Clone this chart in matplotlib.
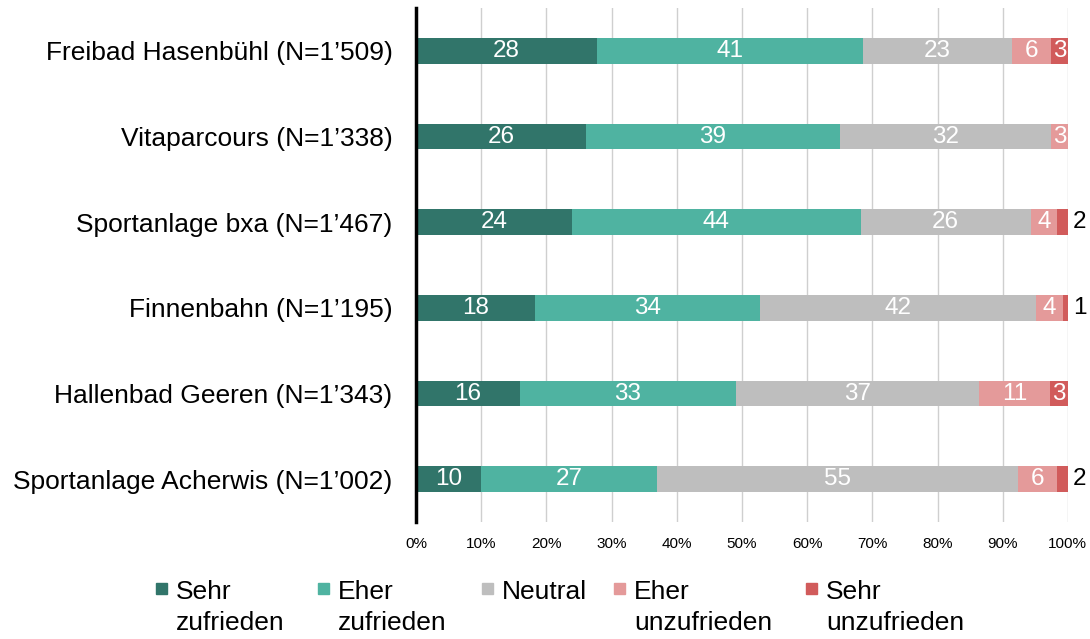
import matplotlib
matplotlib.use('Agg')
import matplotlib.pyplot as plt
from matplotlib.patches import Rectangle

# data (percent), top to bottom
places = ["Freibad Hasenbühl (N=1’509)", "Vitaparcours (N=1’338)",
          "Sportanlage bxa (N=1’467)", "Finnenbahn (N=1’195)",
          "Hallenbad Geeren (N=1’343)", "Sportanlage Acherwis (N=1’002)"]
sehr_zufrieden = [27.7, 26.0, 23.9, 18.3, 15.9, 9.9]
eher_zufrieden = [40.8, 39.1, 44.3, 34.4, 33.2, 27.1]
neutral = [22.9, 32.3, 26.1, 42.4, 37.2, 55.3]
eher_unzufrieden = [6.0, 2.6, 4.1, 4.2, 11.0, 6.1]
sehr_unzufrieden = [2.6, 0.0, 1.6, 0.7, 2.7, 1.6]

categories = ["Sehr\nzufrieden", "Eher\nzufrieden", "Neutral",
              "Eher\nunzufrieden", "Sehr\nunzufrieden"]
series = [sehr_zufrieden, eher_zufrieden, neutral, eher_unzufrieden, sehr_unzufrieden]
colors = ['#31756A', '#4FB3A1', '#BEBEBE', '#E49A9A', '#D15B5B']

plt.rcParams['font.family'] = ['Liberation Sans', 'DejaVu Sans']

fig = plt.figure(figsize=(10.9, 6.39), dpi=100)
ax = fig.add_axes([0.3817, 0.183, 0.598, 0.8045])

ypos = list(range(len(places)))
left = [0.0] * len(places)
for vals, col in zip(series, colors):
    bars = ax.barh(ypos, vals, left=left, height=0.3, color=col, zorder=3)
    for b, v, l in zip(bars, vals, left):
        if v <= 0:
            continue
        yc = b.get_y() + b.get_height() / 2
        if v < 2:
            # too small to fit, label goes right of the bar
            ax.text(l + v + 0.8, yc, "%d" % round(v),
                    ha='left', va='center', color='black', fontsize=17.5)
        else:
            ax.text(l + v / 2, yc, "%d" % round(v),
                    ha='center', va='center', color='white', fontsize=17.5, zorder=4)
    left = [a + b for a, b in zip(left, vals)]

ax.set_ylim(len(places) - 0.5, -0.5)
ax.set_xlim(0, 100)
ax.set_yticks(ypos)
ax.set_yticklabels(places, fontsize=19)
ax.set_xticks(range(0, 101, 10))
ax.set_xticklabels(["%d%%" % t for t in range(0, 101, 10)], fontsize=11)
ax.tick_params(axis='y', length=0, pad=17)
ax.tick_params(axis='x', length=0, pad=11)
ax.grid(axis='x', color='#CFCFCF', linewidth=1, zorder=0)
for s in ['top', 'right', 'bottom']:
    ax.spines[s].set_visible(False)
ax.spines['left'].set_linewidth(2.5)
ax.spines['left'].set_zorder(5)

# legend drawn by hand so the square sits on the first text line
leg_x = [156, 318, 482, 614, 806]
W, H = 1090.0, 639.0
for x, col, lab in zip(leg_x, colors, categories):
    fig.add_artist(Rectangle((x / W, 1 - 594 / H), 11 / W, 11 / H,
                             transform=fig.transFigure, color=col))
    fig.text((x + 20) / W, 1 - 580 / H, lab, ha='left', va='top',
             fontsize=19, linespacing=1.35)

fig.savefig('out.png', dpi=100)
